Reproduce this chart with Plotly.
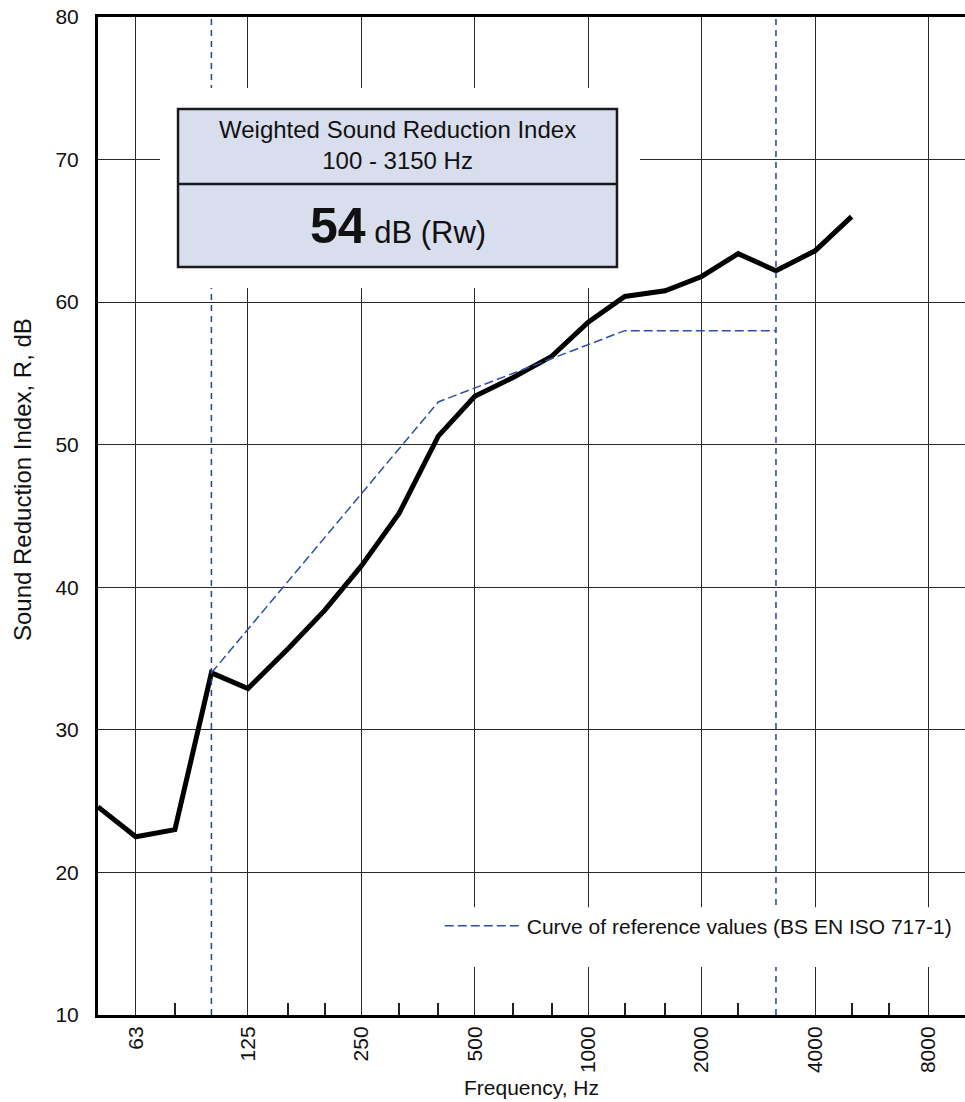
import numpy as np
import plotly.graph_objects as go

# --- data ---
freq_bands = [50, 63, 80, 100, 125, 160, 200, 250, 315, 400, 500, 630, 800,
              1000, 1250, 1600, 2000, 2500, 3150, 4000, 5000]
sri_db = [24.6, 22.5, 23.0, 34.0, 32.9, 35.7, 38.4, 41.5, 45.2, 50.6, 53.4, 54.7,
          56.2, 58.6, 60.4, 60.8, 61.8, 63.4, 62.2, 63.6, 66.0]

ref_freqs = [100, 400, 1250, 3150]
ref_db = [34, 53, 58, 58]

eval_limits = [100, 3150]
y_limits = [10, 80]
x_limits = [50, 10000]

octave_ticks = [63, 125, 250, 500, 1000, 2000, 4000, 8000]
octave_labels = ["63", "125", "250", "500", "1000", "2000", "4000", "8000"]
third_octave_ticks = [80, 160, 200, 315, 400, 630, 800, 1250, 1600, 2500, 5000, 6300]

rw_value = "54"
box_title = "Weighted Sound Reduction Index<br>100 - 3150 Hz"
legend_name = "Curve of reference values (BS EN ISO 717-1)"
x_title = "Frequency, Hz"
y_title = "Sound Reduction Index, R, dB"

FONT = "Liberation Sans, Arial, Helvetica, sans-serif"
BLUE = "#2e4ea8"

fig = go.Figure()

fig.add_trace(go.Scatter(
    x=freq_bands, y=sri_db, mode="lines",
    line=dict(color="black", width=5), showlegend=False, hoverinfo="x+y"))

fig.add_trace(go.Scatter(
    x=ref_freqs, y=ref_db, mode="lines", name=legend_name,
    line=dict(color=BLUE, width=1.5, dash="9px,4px"), showlegend=True))

for f in eval_limits:
    fig.add_trace(go.Scatter(
        x=[f, f], y=y_limits, mode="lines",
        line=dict(color="#23409c", width=1.5, dash="6px,5px"), showlegend=False,
        hoverinfo="skip"))

shapes = [
    # white knock-out behind the info box
    dict(type="rect", xref="paper", yref="paper", x0=0.0715, x1=0.6251,
         y0=0.7285, y1=0.9289, fillcolor="white", line=dict(width=0), layer="above"),
    # white knock-out behind the legend
    dict(type="rect", xref="paper", yref="paper", x0=0.385, x1=1.0,
         y0=0.048, y1=0.108, fillcolor="white", line=dict(width=0), layer="above"),
    # info box
    dict(type="rect", xref="paper", yref="paper", x0=0.0923, x1=0.5986,
         y0=0.7495, y1=0.9078, fillcolor="#d9deee",
         line=dict(color="#1a1a1a", width=2.5), layer="above"),
    dict(type="line", xref="paper", yref="paper", x0=0.0923, x1=0.5986,
         y0=0.8327, y1=0.8327, line=dict(color="#1a1a1a", width=2.5), layer="above"),
]

annotations = [
    dict(xref="paper", yref="paper", x=0.3455, y=0.8717, text=box_title,
         showarrow=False, xanchor="center", yanchor="middle",
         font=dict(family=FONT, size=24, color="#111")),
    dict(xref="paper", yref="paper", x=0.3455, y=0.791,
         text="<b><span style='font-size:50px'>" + rw_value + "</span></b> dB (Rw)",
         showarrow=False, xanchor="center", yanchor="middle",
         font=dict(family=FONT, size=31, color="#111")),
    # y-axis title (placed as in the reference, slightly above the plot centre)
    dict(xref="paper", yref="paper", x=-0.0877, y=0.537, text=y_title,
         textangle=-90, showarrow=False, xanchor="center", yanchor="middle",
         font=dict(family=FONT, size=24, color="#111")),
]

fig.update_layout(
    width=965, height=1102,
    margin=dict(l=98, r=0, t=17, b=87, autoexpand=False),
    paper_bgcolor="white", plot_bgcolor="white",
    font=dict(family=FONT, size=21, color="#111"),
    shapes=shapes, annotations=annotations,
    showlegend=True,
    legend=dict(x=0.3942, y=0.089, xanchor="left", yanchor="middle",
                bgcolor="rgba(0,0,0,0)", borderwidth=0,
                font=dict(family=FONT, size=21, color="#111"),
                itemwidth=77),
)

fig.update_xaxes(
    type="log", range=[np.log10(x_limits[0]), np.log10(x_limits[1])],
    tickmode="array", tickvals=octave_ticks, ticktext=octave_labels,
    tickangle=-90, ticks="", ticklabelstandoff=0,
    tickfont=dict(family=FONT, size=21, color="#111"),
    showgrid=True, gridcolor="#2a2a2a", gridwidth=1.3,
    showline=True, linecolor="black", linewidth=3, mirror=True,
    minor=dict(tickmode="array", tickvals=third_octave_ticks, ticks="inside",
               ticklen=12, tickwidth=1.5, tickcolor="#222", showgrid=False),
    title=dict(text=x_title, standoff=9,
               font=dict(family=FONT, size=21, color="#111")),
    zeroline=False,
)

fig.update_yaxes(
    range=y_limits, tickmode="linear", tick0=10, dtick=10,
    ticks="", ticklabelstandoff=12,
    tickfont=dict(family=FONT, size=21, color="#111"),
    showgrid=True, gridcolor="#2a2a2a", gridwidth=1.3,
    showline=True, linecolor="black", linewidth=3, mirror=False,
    zeroline=False,
)

fig.write_html("out.html",
               config={"displayModeBar": False},
               post_script="document.body.style.margin='0';document.body.style.overflow='hidden';")
